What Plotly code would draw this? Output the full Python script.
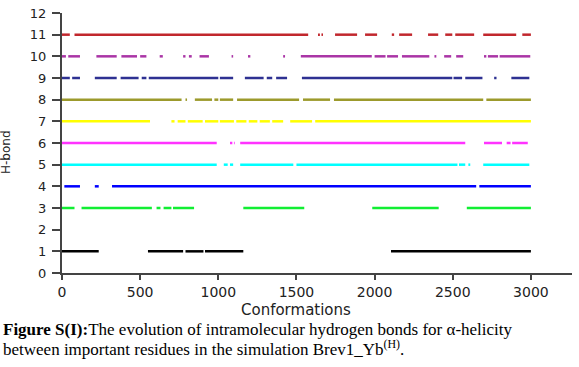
import plotly.graph_objects as go

# ---- data ----
hbond_levels = [11, 10, 9, 8, 7, 6, 5, 4, 3, 1]

seg_11 = [(0, 50), (80, 1575), (1638, 1650), (1660, 1670), (1747, 1888), (1939, 2016),
          (2110, 2125), (2157, 2240), (2342, 2407), (2452, 2497), (2516, 2637),
          (2695, 2906), (2945, 3000)]
seg_10 = [(0, 25), (40, 115), (220, 350), (380, 480), (500, 540), (625, 645), (775, 790),
          (812, 830), (880, 940), (1085, 1095), (1190, 1205), (1415, 1427), (1528, 1982),
          (2000, 2070), (2080, 2150), (2175, 2350), (2383, 2395), (2445, 2490),
          (2522, 2567), (2700, 2715), (2725, 2790), (2800, 2996)]
seg_9 = [(0, 50), (65, 115), (210, 350), (375, 490), (510, 540), (555, 1000), (1010, 1095),
         (1170, 1290), (1310, 1345), (1370, 1440), (1535, 2497), (2505, 2560),
         (2580, 2690), (2765, 2780), (2875, 2990)]
seg_8 = [(0, 765), (790, 800), (850, 960), (975, 1000), (1010, 1095), (1120, 1517),
         (1542, 1715), (1740, 2695), (2715, 3000)]
seg_7 = [(0, 563), (700, 720), (740, 790), (805, 900), (915, 1000), (1010, 1100),
         (1115, 1180), (1195, 1250), (1265, 1330), (1345, 1415), (1460, 1600), (1620, 3000)]
seg_6 = [(0, 990), (1075, 1090), (1100, 1105), (1140, 2580), (2700, 2815), (2845, 2870),
         (2880, 2980)]
seg_5 = [(0, 990), (1035, 1060), (1075, 1095), (1140, 1480), (1500, 2530), (2540, 2580),
         (2600, 2612), (2695, 2990)]
seg_4 = [(15, 115), (210, 235), (320, 2650), (2670, 3000)]
seg_3 = [(0, 80), (125, 575), (605, 630), (650, 700), (710, 845), (1160, 1550),
         (1985, 2410), (2590, 3000)]
seg_1 = [(0, 235), (550, 775), (790, 905), (915, 1160), (2105, 3000)]

segments = [seg_11, seg_10, seg_9, seg_8, seg_7, seg_6, seg_5, seg_4, seg_3, seg_1]

y_ticks = list(range(0, 13))
x_ticks = [0, 500, 1000, 1500, 2000, 2500, 3000]

# ---- styles ----
colors = ["#c1272d", "#aa35a6", "#2e3192", "#9c9a2c", "#ffff00", "#ff33ff",
          "#00ffff", "#0000ff", "#11ee33", "#000000"]

fig = go.Figure()
for lvl, segs, col in zip(hbond_levels, segments, colors):
    xs, ys = [], []
    for a, b in segs:
        xs += [a, b, None]
        ys += [lvl, lvl, None]
    fig.add_trace(go.Scatter(x=xs, y=ys, mode="lines",
                             line=dict(color=col, width=2.5),
                             showlegend=False, hoverinfo="skip"))

tick_font = dict(family="DejaVu Sans", size=13, color="#222222")
fig.update_layout(
    width=579, height=367,
    margin=dict(l=62, r=7, t=13, b=94),
    paper_bgcolor="white", plot_bgcolor="white",
    xaxis=dict(range=[0, 3263], tickvals=x_ticks, showgrid=False, zeroline=False,
               showline=True, linecolor="#444444", linewidth=2,
               ticks="outside", ticklen=5, tickwidth=1.5, tickcolor="#444444",
               tickfont=dict(family="DejaVu Sans", size=14, color="#222222")),
    yaxis=dict(range=[0, 12], tickvals=y_ticks, showgrid=False, zeroline=False,
               showline=True, linecolor="#444444", linewidth=2,
               ticks="outside", ticklen=8, tickwidth=1.5, tickcolor="#444444",
               tickfont=tick_font, ticklabelstandoff=3),
)

W = 510.0
H = 260.0
def px(x):
    return (x - 62) / W
def py(y):
    return (273 - y) / H

fig.add_annotation(text="Conformations", xref="paper", yref="paper",
                   x=px(296), y=py(310), xanchor="center", yanchor="middle",
                   showarrow=False, font=dict(family="DejaVu Sans", size=15, color="#222222"))
fig.add_annotation(text="H-bond", xref="paper", yref="paper", textangle=-90,
                   x=px(6), y=py(152), xanchor="center", yanchor="middle",
                   showarrow=False, font=dict(family="DejaVu Sans", size=12, color="#222222"))
fig.add_annotation(text="<b>Figure S(I):</b>The evolution of intramolecular hydrogen bonds for α-helicity",
                   xref="paper", yref="paper", x=px(1), y=py(329), xanchor="left", yanchor="middle",
                   showarrow=False, font=dict(family="Liberation Serif", size=17, color="#000000"))
fig.add_annotation(text="between important residues in the simulation Brev1_Yb<sup>(H)</sup>.",
                   xref="paper", yref="paper", x=px(1), y=py(348), xanchor="left", yanchor="middle",
                   showarrow=False, font=dict(family="Liberation Serif", size=17, color="#000000"))

fig.write_html("out.html", config={"displayModeBar": False},
               post_script="document.body.style.margin='0px';")
